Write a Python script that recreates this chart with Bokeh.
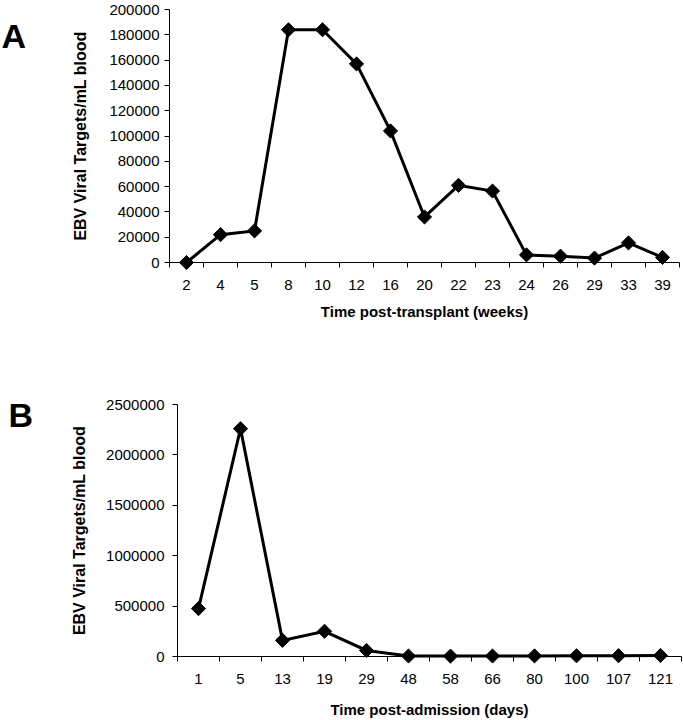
import numpy as np
from bokeh.plotting import figure
from bokeh.models import FixedTicker, NumeralTickFormatter, Range1d
from bokeh.core.properties import value
from bokeh.embed import file_html
from bokeh.resources import INLINE

# ---- data ----
weeks = ["2", "4", "5", "8", "10", "12", "16", "20", "22", "23", "24", "26", "29", "33", "39"]
targets_a = [0, 22000, 25000, 184000, 184000, 157000, 104000, 36000, 61000, 56500, 6000, 5000, 3500, 15500, 4000]
yticks_a = [0, 20000, 40000, 60000, 80000, 100000, 120000, 140000, 160000, 180000, 200000]

days = ["1", "5", "13", "19", "29", "48", "58", "66", "80", "100", "107", "121"]
targets_b = [475000, 2260000, 160000, 250000, 60000, 5000, 4000, 5000, 6000, 7000, 8000, 10000]
yticks_b = [0, 500000, 1000000, 1500000, 2000000, 2500000]

FONT = "Liberation Sans"


def panel(cats, vals, yticks, xlabel, letter, width, height,
          b_left, b_right, b_top, b_bottom, ylab_standoff, ylab_std,
          letter_px, letter_py, x_std, xtitle_std):
    n = len(cats)
    xs = list(range(n))
    ymax = yticks[-1]
    frame_w = width - b_left - b_right
    frame_h = height - b_top - b_bottom
    p = figure(width=width, height=height, output_backend="svg", toolbar_location=None,
               x_range=Range1d(-0.5, n - 0.5), y_range=Range1d(0, ymax),
               min_border_left=b_left, min_border_right=b_right,
               min_border_top=b_top, min_border_bottom=b_bottom)
    p.outline_line_color = None
    p.grid.visible = False
    p.background_fill_color = "white"
    p.border_fill_color = "white"

    p.line(xs, vals, line_width=3, line_color="black", line_join="miter", level="overlay")
    p.scatter(xs, vals, marker="square", angle=np.pi / 4, size=10,
              fill_color="black", line_color="black", level="overlay")

    xa = p.xaxis[0]
    xa.ticker = FixedTicker(ticks=xs, minor_ticks=[i - 0.5 for i in range(n + 1)])
    xa.major_label_overrides = {i: c for i, c in enumerate(cats)}
    xa.major_tick_out = 0
    xa.major_tick_in = 0
    xa.minor_tick_out = 5
    xa.minor_tick_in = 0
    xa.axis_line_color = "black"
    xa.minor_tick_line_color = "black"
    xa.major_label_text_font = FONT
    xa.major_label_text_font_size = "15px"
    xa.major_label_text_color = "black"
    xa.major_label_standoff = x_std
    xa.axis_label = xlabel
    xa.axis_label_text_font = FONT
    xa.axis_label_text_font_style = "bold"
    xa.axis_label_text_font_size = "15px"
    xa.axis_label_text_color = "black"
    xa.axis_label_standoff = xtitle_std

    ya = p.yaxis[0]
    ya.ticker = FixedTicker(ticks=yticks)
    ya.formatter = NumeralTickFormatter(format="0")
    ya.major_tick_out = 5
    ya.major_tick_in = 0
    ya.minor_tick_out = 0
    ya.axis_line_color = "black"
    ya.major_tick_line_color = "black"
    ya.major_label_text_font = FONT
    ya.major_label_text_font_size = "15px"
    ya.major_label_text_color = "black"
    ya.major_label_standoff = ylab_std
    ya.axis_label = "EBV Viral Targets/mL blood"
    ya.axis_label_text_font = FONT
    ya.axis_label_text_font_style = "bold"
    ya.axis_label_text_font_size = "16px"
    ya.axis_label_text_color = "black"
    ya.axis_label_standoff = ylab_standoff

    # panel letter, placed through the plot's scales (overlay level: not clipped)
    lx = -0.5 + (letter_px - b_left) * n / frame_w
    ly = (b_top + frame_h - letter_py) * ymax / frame_h
    p.text(x=[lx], y=[ly], text=[letter], text_font=value(FONT), text_font_style="bold",
           text_font_size="34px", text_color="black",
           text_baseline="alphabetic", text_align="left", level="overlay")
    return p


pa = panel(weeks, targets_a, yticks_a, "Time post-transplant (weeks)", "A",
           width=683, height=322, b_left=169, b_right=4, b_top=9, b_bottom=59,
           ylab_standoff=17, ylab_std=5, letter_px=1, letter_py=36, x_std=12, xtitle_std=10)
pb = panel(days, targets_b, yticks_b, "Time post-admission (days)", "B",
           width=683, height=398, b_left=177, b_right=2, b_top=82, b_bottom=61,
           ylab_standoff=15, ylab_std=8, letter_px=8, letter_py=415 - 322, x_std=12, xtitle_std=14)

# two independent roots so that their frames are not aligned to each other
open("out.html", "w").write(file_html([pa, pb], INLINE))
